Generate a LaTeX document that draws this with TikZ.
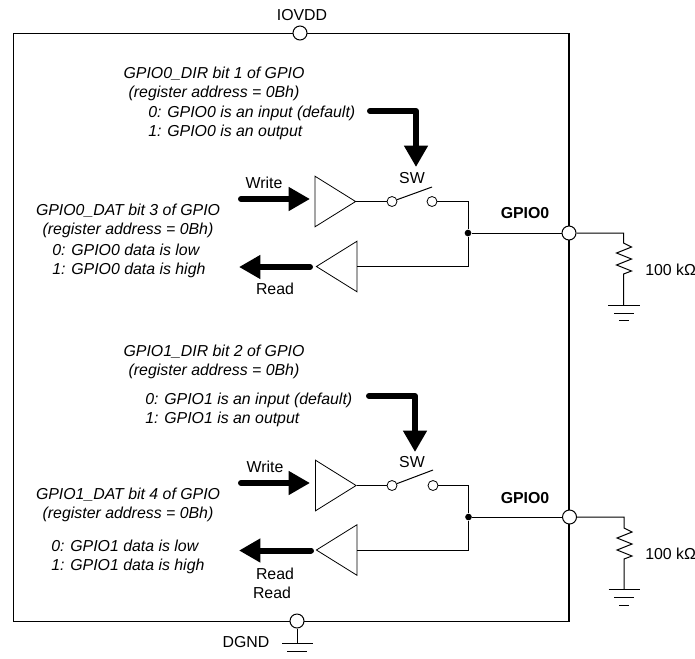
\documentclass[tikz,border=0pt]{standalone}
\usepackage{fontspec}
\setmainfont{Liberation Sans}
\usetikzlibrary{shapes.geometric, arrows.meta}

\begin{document}
\begin{tikzpicture}[
  x=0.75pt, y=-0.75pt,
  lbl/.style={inner sep=0pt, font=\fontsize{11.9}{14.25}\selectfont},
  note/.style={lbl, font=\fontsize{11.9}{14.25}\selectfont\itshape, align=center},
  notel/.style={note, align=left, anchor=west},
  pin/.style={circle, draw, fill=white, line width=0.75pt, minimum size=10.5pt, inner sep=0pt},
  contact/.style={circle, draw, fill=white, line width=0.6pt, minimum size=7.5pt, inner sep=0pt},
  dot/.style={circle, fill=black, minimum size=5pt, inner sep=0pt},
  ampr/.style={isosceles triangle, draw, fill=white, line width=0.6pt, inner sep=0pt, isosceles triangle apex angle=63, isosceles triangle stretches, minimum height=30.5pt, minimum width=38pt},
  ampl/.style={ampr, shape border rotate=180},
  wire/.style={line width=0.75pt},
  bigarrow/.style={-{Triangle[length=16pt, width=17pt]}, line width=4.5pt, line cap=round, line join=round},
]
\useasboundingbox (0,0) rectangle (695,658);

\node[draw, line width=1.1pt, minimum width=416.6pt, minimum height=441.2pt, inner sep=0pt] (chip) at (291.25,327.6) {};
\node[pin] (iovdd) at (300,33) {};
\node[lbl] (iovddlbl) at (302,15) {IOVDD};
\node[pin] (dgnd) at (297,621) {};
\node[lbl] (dgndlbl) at (246,642) {DGND};
\coordinate (dgndg) at (297,643.5);
\draw[wire] (dgnd) -- (dgndg);
\draw[wire] (282,643.5) -- (313,643.5);
\draw[wire] (287,651) -- (307,651);

% GPIO0
\node[note] (dir0) at (214,83.5) {GPIO0\_DIR bit 1 of GPIO\\(register address = 0Bh)};
\node[notel] (dirval0) at (148,123) {0: GPIO0 is an input (default)\\1: GPIO0 is an output};
\node[note] (dat0) at (128,220.5) {GPIO0\_DAT bit 3 of GPIO\\(register address = 0Bh)};
\node[notel] (datval0) at (52,260.5) {0: GPIO0 data is low\\1: GPIO0 data is high};
\node[lbl] (wrlbl0) at (264,183) {Write};
\node[lbl] (rdlbl0) at (275,289) {Read};
\node[lbl] (swlbl0) at (412,178) {SW};
\node[lbl, font=\fontsize{11.9}{14.25}\selectfont\bfseries] (gpiolbl0) at (525,213) {GPIO0};
\node[lbl, anchor=west] (reslbl0) at (645,270) {100 kΩ};

\node[ampr] (wramp0) at (329,201.5) {};
\node[ampl] (rdamp0) at (343,266.5) {};
\node[contact] (swa0) at (392,201.5) {};
\node[contact] (swb0) at (432,201.5) {};
\coordinate (blade0) at (432,187);
\coordinate (swc0) at (468,201.5);
\node[dot] (join0) at (468,233) {};
\node[pin] (gpio0) at (569,233) {};
\coordinate (rest0) at (623.5,243);
\coordinate (gnd0) at (623.5,305);

\coordinate (wrs0) at (241,199);
\coordinate (wre0) at (310,199);
\coordinate (rds0) at (310,267);
\coordinate (rde0) at (239,267);
\coordinate (dirs0) at (370,111);
\coordinate (dirm0) at (416,111);
\coordinate (dire0) at (416,167);

\draw[wire] (wramp0.apex) -- (swa0);
\draw[wire] (swa0) -- (blade0);
\draw[wire] (swb0) -- (swc0) -- (join0);
\draw[wire] (join0) |- (rdamp0.east);
\draw[wire] (join0) -- (gpio0);
\draw[wire] (gpio0) -| (rest0) -- ++(8,4) -- ++(-15,6) -- ++(15,6) -- ++(-15,6) -- ++(15,6) -- ++(-8,3) -- (gnd0);
\draw[wire] (608,305) -- (640,305);
\draw[wire] (614,313) -- (634,313);
\draw[wire] (619,320) -- (629,320);
\draw[bigarrow] (wrs0) -- (wre0);
\draw[bigarrow] (rds0) -- (rde0);
\draw[bigarrow] (dirs0) -- (dirm0) -- (dire0);

% GPIO1
\node[note] (dir1) at (214,361.5) {GPIO1\_DIR bit 2 of GPIO\\(register address = 0Bh)};
\node[notel] (dirval1) at (145,409.5) {0: GPIO1 is an input (default)\\1: GPIO1 is an output};
\node[note] (dat1) at (128,504.5) {GPIO1\_DAT bit 4 of GPIO\\(register address = 0Bh)};
\node[notel] (datval1) at (51,556.5) {0: GPIO1 data is low\\1: GPIO1 data is high};
\node[lbl] (wrlbl1) at (265,467) {Write};
\node[lbl] (rdlbl1) at (275,573.5) {Read};
\node[lbl] (rdlblb1) at (272,592.5) {Read};
\node[lbl] (swlbl1) at (412,462) {SW};
\node[lbl, font=\fontsize{11.9}{14.25}\selectfont\bfseries] (gpiolbl1) at (525,498) {GPIO0};
\node[lbl, anchor=west] (reslbl1) at (645,554) {100 kΩ};

\node[ampr] (wramp1) at (329.5,485.5) {};
\node[ampl] (rdamp1) at (343,550) {};
\node[contact] (swa1) at (392,485.5) {};
\node[contact] (swb1) at (433,485.5) {};
\coordinate (blade1) at (433,470);
\coordinate (swc1) at (468.5,485.5);
\node[dot] (join1) at (468.5,517) {};
\node[pin] (gpio1) at (569.5,517) {};
\coordinate (rest1) at (624,528);
\coordinate (gnd1) at (624,589);

\coordinate (wrs1) at (241,483);
\coordinate (wre1) at (310,483);
\coordinate (rds1) at (311,550.5);
\coordinate (rde1) at (239,550.5);
\coordinate (dirs1) at (369,396);
\coordinate (dirm1) at (415,396);
\coordinate (dire1) at (415,452);

\draw[wire] (wramp1.apex) -- (swa1);
\draw[wire] (swa1) -- (blade1);
\draw[wire] (swb1) -- (swc1) -- (join1);
\draw[wire] (join1) |- (rdamp1.east);
\draw[wire] (join1) -- (gpio1);
\draw[wire] (gpio1) -| (rest1) -- ++(8,4) -- ++(-15,6) -- ++(15,6) -- ++(-15,6) -- ++(15,6) -- ++(-8,3) -- (gnd1);
\draw[wire] (608.5,589) -- (640,589);
\draw[wire] (614,597) -- (634,597);
\draw[wire] (619,605) -- (629,605);
\draw[bigarrow] (wrs1) -- (wre1);
\draw[bigarrow] (rds1) -- (rde1);
\draw[bigarrow] (dirs1) -- (dirm1) -- (dire1);

\end{tikzpicture}
\end{document}
